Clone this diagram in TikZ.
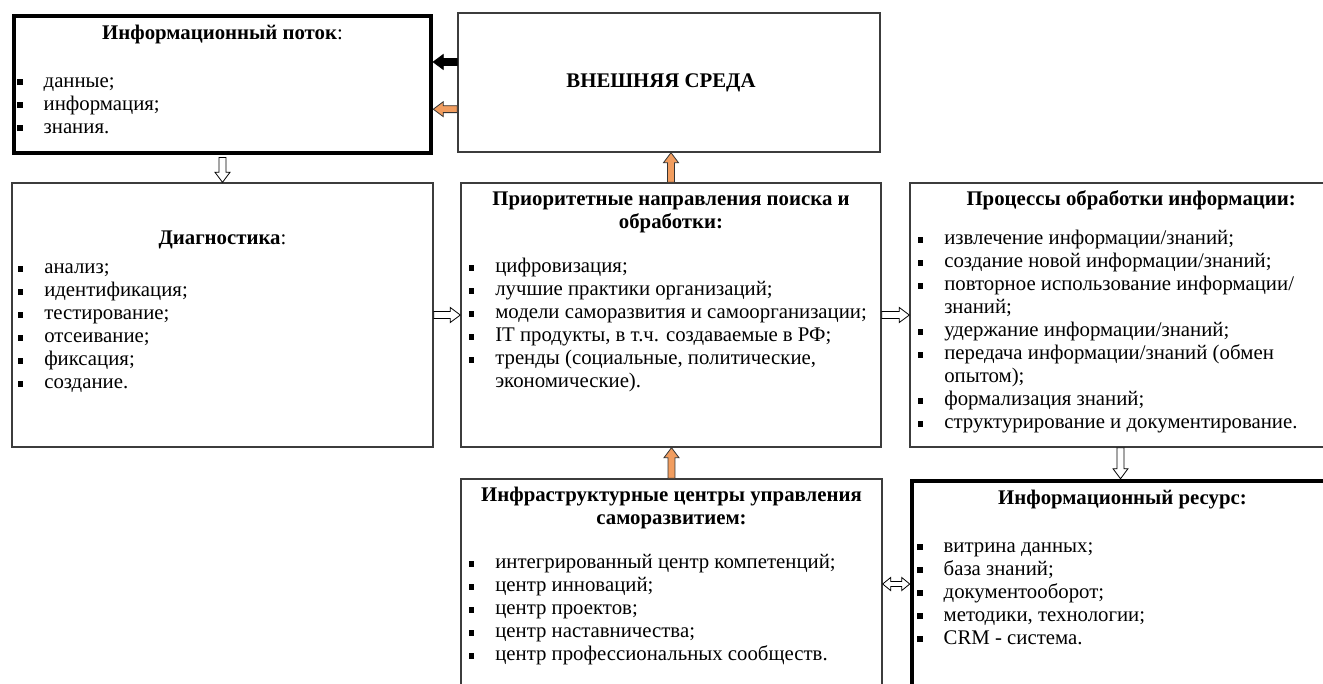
\documentclass[tikz,border=0pt]{standalone}
\usepackage{fontspec}
\setmainfont{Liberation Serif}
\usetikzlibrary{calc,fit,positioning}

\definecolor{boxgray}{RGB}{60,60,60}
\definecolor{arroworange}{RGB}{241,157,95}

% list marks
\newcommand\bul{\strut\makebox[20pt][l]{\rule[1.4pt]{4.4pt}{4.4pt}}}
\newcommand\ind{\strut\hspace*{20pt}}

\tikzset{
  blk/.style={to path={
    let \p1=(\tikztostart), \p2=(\tikztotarget),
        \n1={atan2(\y2-\y1,\x2-\x1)}, \n2={veclen(\x2-\x1,\y2-\y1)} in
    {[shift={(\p1)}, rotate=\n1]
      (0pt,-2.6pt) -- ({\n2*1pt-7.5pt},-2.6pt) -- ({\n2*1pt-7.5pt},-5.6pt)
      -- ({\n2*1pt},0pt) -- ({\n2*1pt-7.5pt},5.6pt) -- ({\n2*1pt-7.5pt},2.6pt)
      -- (0pt,2.6pt) -- cycle}}},
  blkboth/.style={to path={
    let \p1=(\tikztostart), \p2=(\tikztotarget),
        \n1={atan2(\y2-\y1,\x2-\x1)}, \n2={veclen(\x2-\x1,\y2-\y1)} in
    {[shift={(\p1)}, rotate=\n1]
      (0pt,0pt) -- (6pt,-4.9pt) -- (6pt,-1.9pt) -- ({\n2*1pt-6pt},-1.9pt)
      -- ({\n2*1pt-6pt},-4.9pt) -- ({\n2*1pt},0pt) -- ({\n2*1pt-6pt},4.9pt)
      -- ({\n2*1pt-6pt},1.9pt) -- (6pt,1.9pt) -- (6pt,4.9pt) -- cycle}}},
}

\begin{document}
\begin{tikzpicture}[
  x=0.75pt, y=-0.75pt,
  every node/.style={font=\fontsize{15.6}{17.25}\selectfont},
  box/.style={draw=boxgray, line width=1pt, inner sep=0pt},
  thickbox/.style={draw=black, line width=3.4pt, inner sep=0pt},
  head/.style={inner sep=0pt, align=center},
  list/.style={inner sep=0pt, align=left, anchor=north west},
  hollow/.style={blk, draw=black, fill=white, line width=0.6pt},
  hollowboth/.style={blkboth, draw=black, fill=white, line width=0.6pt},
  orangearrow/.style={blk, draw=black!80, fill=arroworange, line width=0.6pt},
  blackarrow/.style={blk, draw=black, fill=black, line width=0.6pt}
]
\useasboundingbox (0,0) rectangle (1323,683);
\clip (0,0) rectangle (1323,683);

% boxes
\node[thickbox, fit={(14,16) (431,153)}] (flow) {};
\node[box, fit={(458,13) (880,152)}] (env) {};
\node[box, fit={(12,183) (433,447)}] (diag) {};
\node[box, fit={(461,183) (881,447)}] (prio) {};
\node[box, fit={(910,183) (1331,447)}] (proc) {};
\node[box, fit={(461,479) (882,689)}] (infra) {};
\node[thickbox, fit={(912,481) (1333,689)}] (res) {};

% texts
\node[head, below=7pt of flow.north] (flowhead) {\strut\textbf{Информационный поток}:};
\node[list] (flowlist) at ([shift={(5,57)}]flow.north west)
  {\bul данные;\\ \bul информация;\\ \bul знания.};

\node[head] (envhead) at ([xshift=-6pt]env.center) {\strut\textbf{ВНЕШНЯЯ СРЕДА}};

\node[head, below=34pt of diag.north] (diaghead) {\strut\textbf{Диагностика}:};
\node[list] (diaglist) at ([shift={(6,75)}]diag.north west)
  {\bul анализ;\\ \bul идентификация;\\ \bul тестирование;\\
   \bul отсеивание;\\ \bul фиксация;\\ \bul создание.};

\node[head, below=5pt of prio.north] (priohead)
  {\strut\textbf{Приоритетные направления поиска и}\\\strut\textbf{обработки:}};
\node[list] (priolist) at ([shift={(8,74)}]prio.north west)
  {\bul цифровизация;\\ \bul лучшие практики организаций;\\
   \bul модели саморазвития и самоорганизации;\\
   \bul IT продукты, в т.ч. создаваемые в РФ;\\
   \bul тренды (социальные, политические,\\ \ind экономические).};

\node[head, below=5pt of proc.north, xshift=8pt] (prochead) {\strut\textbf{Процессы обработки информации:}};
\node[list] (proclist) at ([shift={(8,46)}]proc.north west)
  {\bul извлечение информации/знаний;\\ \bul создание новой информации/знаний;\\
   \bul повторное использование информации/\\ \ind знаний;\\
   \bul удержание информации/знаний;\\
   \bul передача информации/знаний (обмен\\ \ind опытом);\\
   \bul формализация знаний;\\ \bul структурирование и документирование.};

\node[head, below=5pt of infra.north] (infrahead)
  {\strut\textbf{Инфраструктурные центры управления}\\\strut\textbf{саморазвитием:}};
\node[list] (infralist) at ([shift={(8,74)}]infra.north west)
  {\bul интегрированный центр компетенций;\\ \bul центр инноваций;\\
   \bul центр проектов;\\ \bul центр наставничества;\\
   \bul центр профессиональных сообществ.};

\node[head, below=7pt of res.north] (reshead) {\strut\textbf{Информационный ресурс:}};
\node[list] (reslist) at ([shift={(7,57)}]res.north west)
  {\bul витрина данных;\\ \bul база знаний;\\ \bul документооборот;\\
   \bul методики, технологии;\\ \bul CRM - система.};

% connectors
\coordinate (envup) at ([yshift=15.4pt]env.west);
\coordinate (envdown) at ([yshift=-20pt]env.west);
\coordinate (flowout) at ([yshift=-1.7pt]flow.south);
\draw[blackarrow] (envup) to (envup -| flow.east);
\draw[orangearrow] (envdown) to (envdown -| flow.east);
\draw[orangearrow] (prio.north) to (prio.north |- env.south);
\draw[orangearrow] (infra.north) to (infra.north |- prio.south);
\draw[hollow] (flowout) to (flowout |- diag.north);
\draw[hollow] (diag.east) to (prio.west);
\draw[hollow] (prio.east) to (proc.west);
\draw[hollow] (proc.south) to (proc.south |- res.north);
\draw[hollowboth] (infra.east) to (infra.east -| res.west);
\end{tikzpicture}
\end{document}
